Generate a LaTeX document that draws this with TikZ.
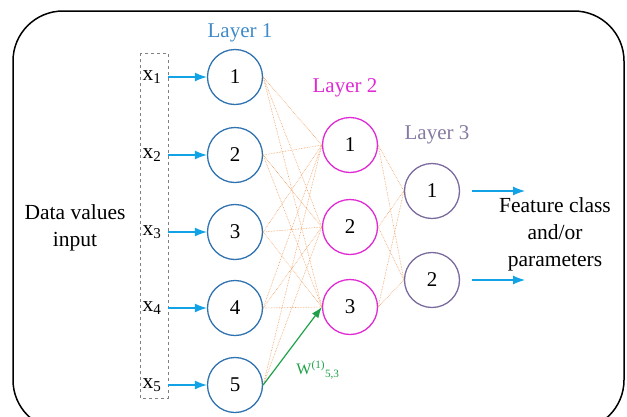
\documentclass[tikz,border=0pt]{standalone}
\usepackage{fontspec}
\setmainfont{Liberation Serif}
\usetikzlibrary{arrows.meta}
\definecolor{lone}{HTML}{2F72B0}
\definecolor{lonet}{HTML}{3F8AC8}
\definecolor{ltwo}{HTML}{E02AD4}
\definecolor{lthree}{HTML}{7A6A9E}
\definecolor{lthreet}{HTML}{857AA3}
\definecolor{arr}{HTML}{12A3E6}
\definecolor{edge}{HTML}{EE9A58}
\definecolor{wgreen}{HTML}{20A048}
\tikzset{
  neuron/.style={circle, draw, line width=1.3pt, minimum size=55pt, inner sep=0pt, font=\fontsize{21}{24}\selectfont},
  l1/.style={neuron, draw=lone},
  l2/.style={neuron, draw=ltwo},
  l3/.style={neuron, draw=lthree},
  conn/.style={draw=edge, line width=0.6pt, densely dotted},
  inarrow/.style={draw=arr, line width=1.2pt, -{Latex[length=12pt,width=9pt]}},
  txt/.style={font=\fontsize{21.5}{27}\selectfont, align=center, inner sep=0pt},
  lay/.style={font=\fontsize{21}{24}\selectfont, inner sep=0pt},
}
\begin{document}
\begin{tikzpicture}[x=1pt,y=-1pt]
\useasboundingbox (0,0) rectangle (627,416);
\draw[line width=1.5pt, rounded corners=50pt] (13,11) rectangle (624,430);
% dashed input box
\draw[gray, dashed, line width=0.7pt] (140,53) rectangle (168,398);
\node[txt] (data) at (75,228) {Data values\\input};
% layer 1
\node[l1] (a1) at (235,77) {1};
\node[l1] (a2) at (235,155) {2};
\node[l1] (a3) at (235,232) {3};
\node[l1] (a4) at (235,308) {4};
\node[l1] (a5) at (235,385) {5};
% layer 2
\node[l2] (b1) at (350,145) {1};
\node[l2] (b2) at (350,227) {2};
\node[l2] (b3) at (350,307) {3};
% layer 3
\node[l3] (c1) at (432,191) {1};
\node[l3] (c2) at (432,280) {2};
% layer labels
\node[lay, text=lonet] (t1) at (240,33) {Layer 1};
\node[lay, text=ltwo] (t2) at (345,88) {Layer 2};
\node[lay, text=lthreet] (t3) at (437,135) {Layer 3};
% inputs
\foreach \i/\y in {1/77,2/155,3/232,4/308,5/385}{
  \coordinate (s\i) at (168,\y);
  \node[txt, anchor=center] (x\i) at (152,\y) {x\textsubscript{\i}};
  \draw[inarrow] (s\i) -- (a\i.west);
}
% connections
\foreach \i in {1,...,5}{
  \foreach \j in {1,2,3}{
    \ifnum\i\j=53\else
    \draw[conn] (a\i.east) -- (b\j.west);
    \fi
  }
}
\foreach \j in {1,2,3}{
  \foreach \k in {1,2}{
    \draw[conn] (b\j.east) -- (c\k.west);
  }
}
\draw[wgreen, line width=1.2pt, -{Latex[length=11pt,width=8pt]}] (a5.east) -- (b3.west);
\node[text=wgreen, font=\fontsize{16}{18}\selectfont, inner sep=0pt] (w) at (318,370) {W\textsuperscript{(1)}\textsubscript{5,3}};
% outputs
\coordinate (o1) at (525,191);
\coordinate (o2) at (525,280);
\draw[inarrow] (c1.east) ++(12,0) coordinate (c1s) -- (o1);
\draw[inarrow] (c2.east) ++(12,0) coordinate (c2s) -- (o2);
\node[txt] (feat) at (555,234) {Feature class\\and/or\\parameters};
\end{tikzpicture}
\end{document}
